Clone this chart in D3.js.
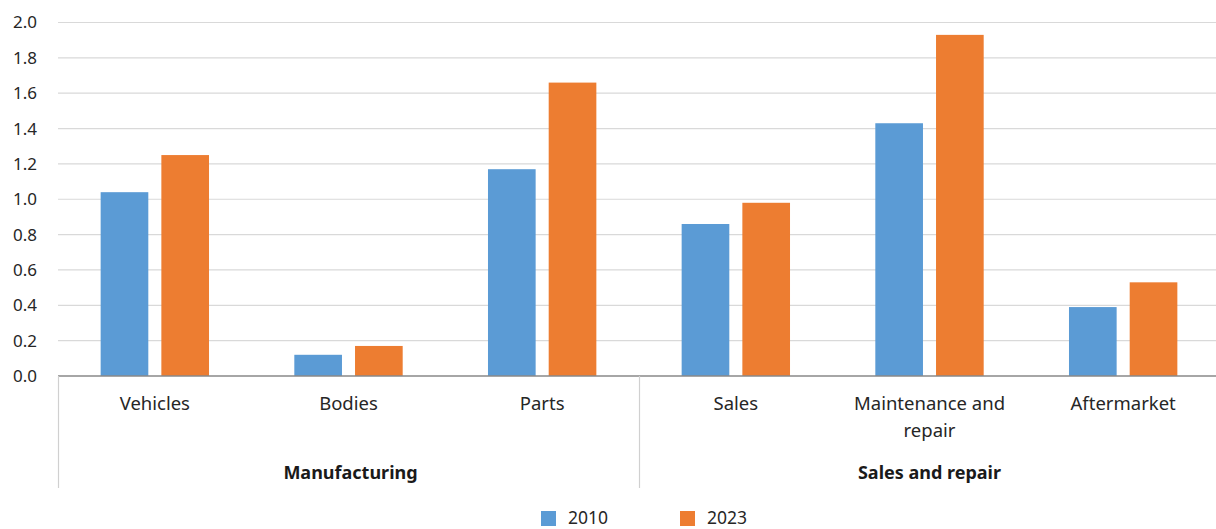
<!DOCTYPE html>
<html>
<head>
<meta charset="utf-8">
<script src="https://cdn.jsdelivr.net/npm/d3@7"></script>
<style>
  html, body { margin: 0; padding: 0; background: #fff; }
  svg { display: block; font-family: "Source Sans Pro", "Noto Sans", sans-serif; }
</style>
</head>
<body>
<svg id="chart" width="1216" height="529"></svg>
<script>
// Categories, grouped into two sectors
const categories = ["Vehicles", "Bodies", "Parts", "Sales", "Maintenance and repair", "Aftermarket"];
const sectors = ["Manufacturing", "Manufacturing", "Manufacturing", "Sales and repair", "Sales and repair", "Sales and repair"];
const seriesNames = ["2010", "2023"];
const values2010 = [1.04, 0.12, 1.17, 0.86, 1.43, 0.39];
const values2023 = [1.25, 0.17, 1.66, 0.98, 1.93, 0.53];
const yTicks = [0, 0.2, 0.4, 0.6, 0.8, 1.0, 1.2, 1.4, 1.6, 1.8, 2.0];
const colors = ["#5B9BD5", "#ED7D31"];

const svg = d3.select("#chart");
// The plot area runs slightly past the right edge of the canvas
const plot = { left: 58, right: 1220, top: 22.5, bottom: 376 };

const x = d3.scaleBand().domain(categories).range([plot.left, plot.right]).paddingInner(0).paddingOuter(0);
const inner = d3.scaleBand().domain(seriesNames).range([0, x.bandwidth()]).paddingInner(0.215).paddingOuter(0.7025);
const y = d3.scaleLinear().domain([0, 2]).range([plot.bottom, plot.top]);

// Horizontal gridlines
svg.append("g")
  .selectAll("line")
  .data(yTicks.filter(d => d > 0))
  .join("line")
  .attr("x1", plot.left).attr("x2", plot.right)
  .attr("y1", d => y(d)).attr("y2", d => y(d))
  .attr("stroke", "#d9d9d9").attr("stroke-width", 1.2);

// Y tick labels
svg.append("g")
  .selectAll("text")
  .data(yTicks)
  .join("text")
  .attr("x", 37).attr("y", d => y(d))
  .attr("dy", "0.35em")
  .attr("text-anchor", "end")
  .attr("font-size", 17)
  .attr("fill", "#262626")
  .text(d => d3.format(".1f")(d));

// Bars
const rows = categories.map((c, i) => ({ cat: c, vals: [values2010[i], values2023[i]] }));
const groups = svg.append("g").selectAll("g").data(rows).join("g")
  .attr("transform", d => `translate(${x(d.cat)},0)`);
groups.selectAll("rect")
  .data(d => d.vals.map((v, j) => ({ key: seriesNames[j], v, j })))
  .join("rect")
  .attr("x", d => inner(d.key))
  .attr("width", inner.bandwidth())
  .attr("y", d => y(d.v))
  .attr("height", d => y(0) - y(d.v))
  .attr("fill", d => colors[d.j]);

// Baseline
svg.append("line")
  .attr("x1", plot.left).attr("x2", plot.right)
  .attr("y1", plot.bottom).attr("y2", plot.bottom)
  .attr("stroke", "#898989").attr("stroke-width", 1.3);

// Sector separators
const sectorNames = Array.from(new Set(sectors));
const sectorSpans = sectorNames.map(s => {
  const cats = categories.filter((c, i) => sectors[i] === s);
  const x0 = x(cats[0]);
  const x1 = x(cats[cats.length - 1]) + x.bandwidth();
  return { name: s, x0, x1 };
});
const seps = [plot.left, ...sectorSpans.map(s => s.x1)];
svg.append("g").selectAll("line").data(seps).join("line")
  .attr("x1", d => d + 0.5).attr("x2", d => d + 0.5)
  .attr("y1", plot.bottom).attr("y2", 488)
  .attr("stroke", "#d0d0d0").attr("stroke-width", 1.2);

// Category labels, wrapped to the band width
const catLabels = svg.append("g").selectAll("text").data(categories).join("text")
  .attr("y", 404)
  .attr("text-anchor", "middle")
  .attr("font-size", 18.5)
  .attr("fill", "#262626");
catLabels.each(function (d) {
  const t = d3.select(this);
  const cx = x(d) + x.bandwidth() / 2;
  const words = d.split(" ");
  const maxW = 170;
  let line = [];
  let tspan = t.append("tspan").attr("x", cx).attr("dy", "0.35em");
  words.forEach(w => {
    line.push(w);
    tspan.text(line.join(" "));
    if (tspan.node().getComputedTextLength() > maxW && line.length > 1) {
      line.pop();
      tspan.text(line.join(" "));
      line = [w];
      tspan = t.append("tspan").attr("x", cx).attr("dy", 27).text(w);
    }
  });
});

// Sector labels
svg.append("g").selectAll("text").data(sectorSpans).join("text")
  .attr("x", d => (Math.min(d.x0, 1216) + Math.min(d.x1, 1216)) / 2 + 2)
  .attr("y", 473)
  .attr("dy", "0.35em")
  .attr("text-anchor", "middle")
  .attr("font-size", 18)
  .attr("font-weight", "bold")
  .attr("fill", "#1a1a1a")
  .text(d => d.name);

// Legend
const legendX = [541, 680];
const legend = svg.append("g").selectAll("g").data(seriesNames).join("g")
  .attr("transform", (d, i) => `translate(${legendX[i]},511)`);
legend.append("rect").attr("width", 15).attr("height", 15).attr("fill", (d, i) => colors[i]);
legend.append("text")
  .attr("x", 27).attr("y", 13)
  .attr("font-size", 17.5)
  .attr("fill", "#262626")
  .text(d => d);
</script>
</body>
</html>
